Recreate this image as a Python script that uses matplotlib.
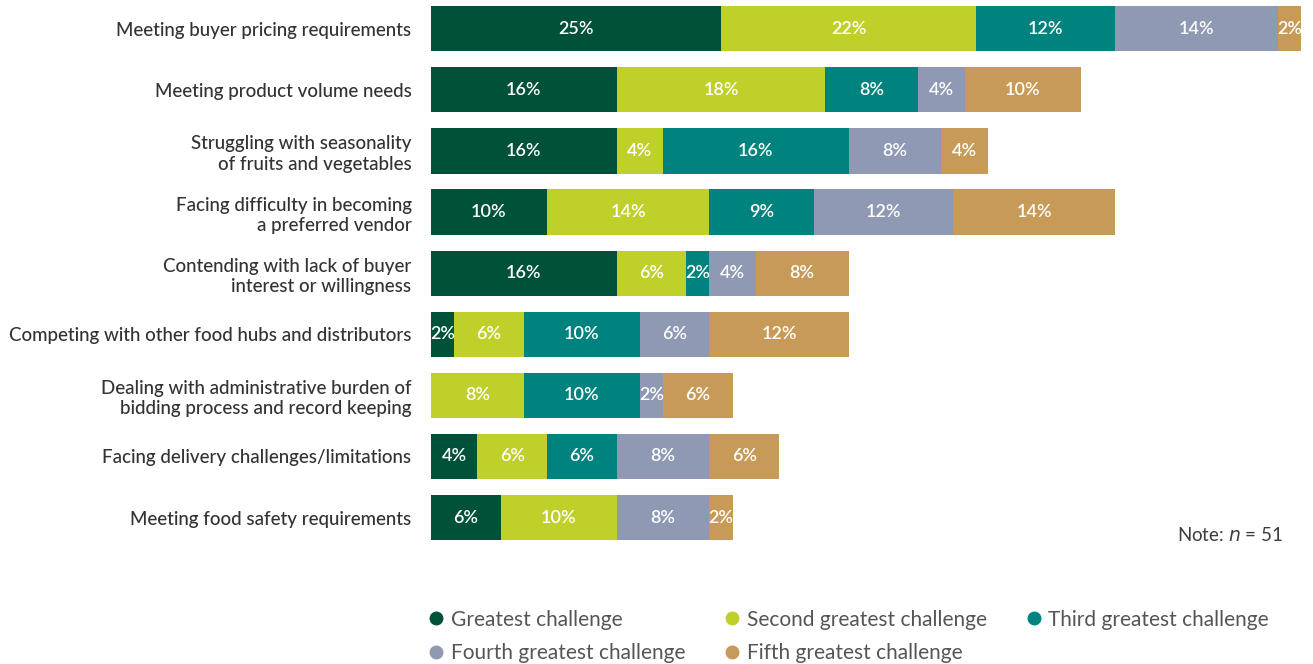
import matplotlib.pyplot as plt
import numpy as np
from matplotlib.lines import Line2D

# challenge categories, top to bottom
categories = [
    "Meeting buyer pricing requirements",
    "Meeting product volume needs",
    "Struggling with seasonality\nof fruits and vegetables",
    "Facing difficulty in becoming\na preferred vendor",
    "Contending with lack of buyer\ninterest or willingness",
    "Competing with other food hubs and distributors",
    "Dealing with administrative burden of\nbidding process and record keeping",
    "Facing delivery challenges/limitations",
    "Meeting food safety requirements",
]

# share of respondents (%) ranking each as 1st..5th greatest challenge
greatest = [25, 16, 16, 10, 16, 2, 0, 4, 6]
second = [22, 18, 4, 14, 6, 6, 8, 6, 10]
third = [12, 8, 16, 9, 2, 10, 10, 6, 0]
fourth = [14, 4, 8, 12, 4, 6, 2, 8, 8]
fifth = [2, 10, 4, 14, 8, 12, 6, 6, 2]

series_names = ["Greatest challenge", "Second greatest challenge", "Third greatest challenge",
                "Fourth greatest challenge", "Fifth greatest challenge"]
colors = ["#00513a", "#bfd02b", "#00837f", "#8f99b4", "#c89a58"]

plt.rcParams['font.family'] = ['Lato', 'DejaVu Sans']

fig = plt.figure(figsize=(13.13, 6.64), dpi=100)
ax = fig.add_axes([431 / 1313, 1 - 545 / 664, 870 / 1313, 545 / 664])

y = np.arange(len(categories))
left = np.zeros(len(categories))
for name, vals, col in zip(series_names, [greatest, second, third, fourth, fifth], colors):
    vals = np.array(vals, dtype=float)
    ax.barh(y, vals, left=left, height=0.74, color=col, label=name)
    for yi, l, v in zip(y, left, vals):
        if v > 0:
            ax.text(l + v / 2, yi, f"{int(v)}%", ha="center", va="center",
                    color="white", fontsize=13, fontweight="semibold")
    left += vals

ax.set_xlim(0, 75)
ax.set_ylim(8.45, -0.47)
ax.set_yticks(y)
ax.set_yticklabels(categories, fontsize=13.5, color="#333333", linespacing=1.25,
                   fontweight="medium")
ax.tick_params(axis="y", length=0, pad=14)
ax.set_xticks([])
for s in ax.spines.values():
    s.set_visible(False)

fig.text(1283 / 1313, 1 - 535 / 664, "Note: $n$ = 51", ha="right", va="center",
         fontsize=13.5, color="#3c3c3c")

# legend laid out row by row (column-major order reshuffled)
handles = [Line2D([], [], marker="o", linestyle="none", markersize=9,
                  markerfacecolor=c, markeredgecolor=c) for c in colors]
order = [0, 3, 1, 4, 2]
fig.legend([handles[i] for i in order], [series_names[i] for i in order],
           ncol=3, frameon=False, loc="upper left",
           bbox_to_anchor=(408 / 1313, 1 - 591 / 664),
           fontsize=15, labelcolor="#555555", handletextpad=0.25,
           handlelength=0.9, columnspacing=1.8, labelspacing=0.65)

fig.savefig("out.png", dpi=100)
